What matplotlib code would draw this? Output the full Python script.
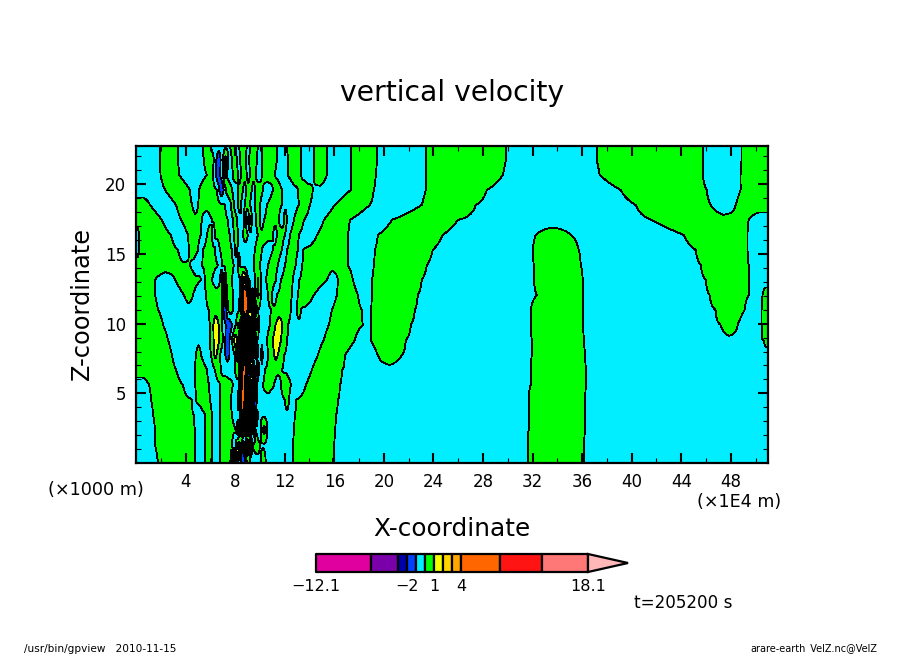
import numpy as np
import matplotlib
matplotlib.use("Agg")
import matplotlib.pyplot as plt

# shade levels of the vertical velocity and their colours
levels = [-12.1, -6, -3, -2, -1, 0, 1, 2, 3, 4, 8.3, 13, 18.1]
colors = ["#e000a0", "#7a00aa", "#0000aa", "#0040ff", "#00eeff", "#00ff00",
          "#f5ff00", "#ffd400", "#ffa500", "#ff6600", "#ff1414", "#ff7878"]
over_colour = "#ffb8b8"
cbar_labels = [-12.1, -2, 1, 4, 18.1]

C = -0.6  # typical weak downdraft
G = 0.6   # typical weak updraft

# heights of the read-off profiles (x 1000 m)
z_rows = [22.75, 21.75, 20.67, 19.6, 18.52, 17.44, 16.37, 15.29, 14.21, 13.14, 12.06,
          10.98, 9.91, 8.83, 7.75, 6.68, 5.6, 4.52, 3.45, 2.37, 1.29, 0.0]

# each profile: (x where the lobe ends, x 1E4 m ; peak velocity of that lobe)
p00 = [(1.94,C),(3.39,G),(5.4,C),(5.97,G),(7.58,C),(8.06,G),(8.31,C),(8.95,G),(9.19,C),(9.84,G),(10.16,C),(11.37,G),(12.18,C),(13.31,G),(14.35,C),(15.4,G),(17.34,C),(19.44,G),(23.39,C),(29.84,G),(37.18,C),(45.73,G),(48.87,C),(51,G)]
p01 = [(1.94,C),(3.39,G),(5.48,C),(6.29,G),(7.02,-1.9),(7.42,1.6),(7.74,C),(8.15,G),(8.39,C),(8.87,G),(9.11,C),(9.76,G),(10.16,C),(11.37,G),(12.26,C),(13.31,G),(14.35,C),(15.4,G),(17.34,C),(19.44,G),(23.39,C),(29.84,G),(37.18,C),(45.73,G),(48.87,C),(51,G)]
p02 = [(1.98,C),(3.47,G),(5.73,C),(6.21,G),(7.02,-1.8),(7.34,1.5),(7.82,C),(8.23,G),(8.47,C),(8.95,G),(9.19,C),(9.68,G),(10.16,C),(11.21,G),(12.26,C),(13.31,G),(14.35,C),(15.4,G),(17.34,C),(19.35,G),(23.39,C),(29.6,G),(37.42,C),(45.73,G),(48.79,C),(51,G)]
p03 = [(2.34,C),(4.35,G),(5.08,C),(6.53,G),(7.26,-2.0),(7.74,G),(8.23,C),(8.63,G),(8.87,C),(9.35,G),(9.6,C),(10.24,G),(11.05,C),(11.77,G),(13.06,C),(14.27,G),(17.34,C),(19.19,G),(23.39,C),(28.31,G),(39.11,C),(46.05,G),(48.79,C),(51,G)]
p04 = [(1.13,G),(3.23,C),(4.52,G),(5.0,C),(7.18,G),(7.66,C),(7.9,G),(8.23,C),(8.47,G),(8.79,C),(9.19,G),(9.6,C),(10.0,G),(10.56,C),(11.77,G),(13.15,C),(14.03,G),(16.05,C),(18.87,G),(23.06,C),(27.42,G),(40.32,C),(46.37,G),(48.39,C),(51,G)]
p05 = [(2.1,G),(3.63,C),(5.32,G),(6.13,C),(7.42,G),(7.82,C),(8.15,G),(8.47,C),(8.71,-0.8),(8.87,1.6),(9.11,-1.6),(9.35,1.6),(9.68,C),(10.0,G),(10.32,C),(11.53,G),(11.94,C),(12.18,G),(12.74,C),(13.55,G),(15.16,C),(17.26,G),(20.65,C),(25.97,G),(41.61,C),(49.44,G),(51,C)]
p06 = [(0.24,C),(2.82,G),(4.19,C),(5.24,G),(5.73,C),(6.13,G),(6.37,C),(7.58,G),(7.9,C),(8.23,G),(8.63,C),(9.03,G),(9.84,C),(11.05,G),(11.37,C),(12.02,G),(12.42,C),(13.15,G),(14.6,C),(17.1,G),(19.52,C),(24.76,G),(32.26,C),(35.08,G),(44.19,C),(49.35,G),(51,C)]
p07 = [(0.24,C),(3.39,G),(4.27,C),(5.0,G),(5.4,C),(6.37,G),(6.77,C),(7.74,G),(7.98,C),(8.15,G),(9.6,C),(10.16,G),(11.05,C),(11.77,G),(12.18,C),(13.06,G),(13.47,C),(17.1,G),(19.27,C),(23.95,G),(32.02,C),(35.73,G),(45.16,C),(49.35,G),(51,C)]
p08 = [(4.35,G),(5.32,C),(6.61,G),(6.94,C),(7.9,G),(8.23,C),(8.39,G),(9.52,C),(10.0,G),(10.65,C),(11.45,G),(12.02,C),(12.9,G),(13.39,C),(17.1,G),(19.19,C),(23.47,G),(32.1,C),(35.89,G),(45.56,C),(49.44,G),(51,C)]
p09 = [(1.53,G),(3.15,C),(5.24,G),(5.56,C),(6.13,G),(6.77,C),(6.94,G),(7.26,-2.4),(7.74,G),(8.39,C),(9.03,2.8),(9.19,-1.2),(9.6,C),(10.08,1.1),(10.48,C),(11.29,G),(11.69,C),(12.66,G),(13.15,C),(15.4,G),(16.29,C),(17.5,G),(19.03,C),(23.06,G),(32.1,C),(36.05,G),(45.97,C),(49.44,G),(51,C)]
p10 = [(1.53,G),(3.87,C),(4.6,G),(5.65,C),(6.94,G),(7.34,-2.8),(7.82,G),(8.39,C),(9.23,7),(9.6,-1.5),(10.08,1.3),(10.65,C),(10.97,G),(11.37,C),(12.58,G),(13.06,C),(14.35,G),(16.21,C),(17.9,G),(19.03,C),(22.74,G),(32.34,C),(36.05,G),(46.29,C),(49.44,G),(50.56,C),(51,G)]
p11 = [(1.77,G),(5.89,C),(6.94,G),(7.42,-2),(7.82,G),(8.31,C),(9.35,6),(9.52,-2),(9.84,1.8),(10.89,C),(12.5,G),(12.98,C),(13.31,G),(15.81,C),(18.23,G),(18.95,C),(22.5,G),(31.85,C),(36.05,G),(46.77,C),(49.11,G),(50.48,C),(51,G)]
p12 = [(2.18,G),(5.97,C),(6.94,1.8),(8.06,-1.9),(8.39,1.3),(8.63,-3),(8.95,3.5),(9.19,-3),(9.44,4),(9.68,-3),(9.92,1.5),(10.81,C),(12.26,1.6),(15.56,C),(18.31,G),(18.95,C),(22.18,G),(31.85,C),(36.05,G),(47.18,C),(48.55,G),(50.48,C),(51,G)]
p13 = [(2.58,G),(5.97,C),(7.02,1.8),(7.74,-1.9),(8.31,1.7),(8.55,-2.5),(8.95,5),(9.11,-3),(9.35,3),(9.6,-2.5),(9.76,2),(10.56,C),(12.18,1.7),(15.16,C),(17.66,G),(18.95,C),(21.77,G),(31.94,C),(36.13,G),(50.65,C),(51,G)]
p14 = [(2.9,G),(4.84,C),(5.24,G),(6.05,C),(6.77,1.3),(7.98,-1.4),(8.31,1.5),(8.55,-3),(8.87,3.5),(9.11,-3),(9.35,4),(9.68,-2),(9.84,2),(10.0,C),(10.32,-1.8),(10.65,C),(11.94,1.3),(14.68,C),(16.85,G),(19.52,C),(21.45,G),(31.94,C),(36.21,G),(51,C)]
p15 = [(3.23,G),(4.76,C),(5.73,G),(6.37,C),(6.85,G),(7.98,C),(8.31,G),(8.47,-2),(9.0,8),(9.27,-3),(9.6,4),(10.0,-3),(10.4,C),(11.77,G),(14.19,C),(16.61,G),(31.85,C),(36.29,G),(51,C)]
p16 = [(1.05,C),(3.79,G),(4.76,C),(5.89,G),(6.77,C),(7.82,G),(8.31,C),(8.4,-2),(8.9,8),(9.11,-3),(9.44,3),(9.84,-3),(10.24,C),(11.13,G),(11.69,C),(12.5,G),(13.71,C),(16.45,G),(31.85,C),(36.29,G),(51,C)]
p17 = [(1.21,C),(4.52,G),(4.84,C),(5.97,G),(6.77,C),(7.66,G),(8.15,C),(8.39,-3),(8.87,8),(9.11,-3),(9.52,2.5),(9.84,-2.2),(12.0,C),(12.34,G),(12.9,C),(16.29,G),(31.69,C),(36.21,G),(51,C)]
p18 = [(1.37,C),(4.68,G),(5.56,C),(6.13,G),(6.77,C),(7.74,G),(8.39,C),(8.87,7),(9.11,-3),(9.44,3),(9.68,-3),(9.84,G),(12.82,C),(16.13,G),(31.69,C),(36.21,G),(51,C)]
p19 = [(1.53,C),(4.76,G),(5.56,C),(6.13,G),(6.77,C),(8.06,G),(8.39,-2.5),(8.71,3),(9.03,-3),(9.35,3),(9.68,-2),(10.08,C),(10.6,1.6),(12.74,C),(16.05,G),(31.69,C),(36.21,G),(51,C)]
p20 = [(1.53,C),(4.76,G),(5.56,C),(6.13,G),(6.77,C),(7.74,G),(8.06,C),(8.47,1.8),(8.79,-2),(9.11,3),(9.44,-3),(10.0,G),(12.66,C),(15.97,G),(31.61,C),(36.13,G),(51,C)]
p21 = [(1.77,C),(4.76,G),(5.56,C),(6.13,G),(6.77,C),(7.58,G),(7.82,4),(8.06,-4),(8.23,4),(9.0,-1.9),(9.27,G),(10.08,C),(10.48,G),(12.66,C),(15.89,G),(31.61,C),(36.13,G),(51,C)]
profiles = [p00, p01, p02, p03, p04, p05, p06, p07, p08, p09, p10, p11,
            p12, p13, p14, p15, p16, p17, p18, p19, p20, p21]

x_ticks = [4, 8, 12, 16, 20, 24, 28, 32, 36, 40, 44, 48]
z_ticks = [5, 10, 15, 20]

X_MAX, Z_MAX = 51.0, 22.75


def expand(profile, xs):
    px, pw = [0.0], [profile[0][1]]
    start = 0.0
    for end, peak in profile:
        px += [(start + end) / 2, end]
        pw += [peak, 0.0]
        start = end
    pw[-1] = profile[-1][1]
    return np.interp(xs, px, pw)


W_px, H_px = 904, 654
fig = plt.figure(figsize=(W_px / 100, H_px / 100), dpi=100, facecolor="white")


def rect(l, t, r, b):
    return [l / W_px, 1 - b / H_px, (r - l) / W_px, (b - t) / H_px]


ax = fig.add_axes(rect(136, 146, 768, 463))
xs = np.arange(0, X_MAX + 0.001, 0.04)
zs = np.array(z_rows)[::-1]
W = np.array([expand(p, xs) for p in profiles])[::-1]
ax.contourf(xs, zs, W, levels=levels, colors=colors, antialiased=False)
ax.contour(xs, zs, W, levels=levels[1:-1], colors="black", linewidths=0.6,
           linestyles="solid", antialiased=False)
ax.set_xlim(0, X_MAX)
ax.set_ylim(0, Z_MAX)
ax.set_xticks(x_ticks)
ax.set_yticks(z_ticks)
ax.set_xticks(np.arange(2, 51, 2), minor=True)
ax.set_yticks(np.arange(1, 23), minor=True)
ax.tick_params(which="major", direction="in", length=7, width=1.5, top=True, right=True,
               labelsize=12, pad=7)
ax.tick_params(which="minor", direction="in", length=3.5, width=0.8, top=True, right=True)
for s in ax.spines.values():
    s.set_linewidth(1.6)

FONT = "DejaVu Sans"
fig.text(452 / W_px, 1 - 93 / H_px, "vertical velocity", ha="center", va="center",
         fontsize=20.3, family=FONT)
fig.text(452 / W_px, 1 - 529 / H_px, "X-coordinate", ha="center", va="center",
         fontsize=17.8, family=FONT)
fig.text(82 / W_px, 1 - 304 / H_px, "Z-coordinate", ha="center", va="center",
         rotation=90, fontsize=17.3, family=FONT)
fig.text(95.5 / W_px, 1 - 490 / H_px, "(\u00d71000 m)", ha="center", va="center",
         fontsize=12.7, family=FONT)
fig.text(739 / W_px, 1 - 502 / H_px, "(\u00d71E4 m)", ha="center", va="center",
         fontsize=12.6, family=FONT)
fig.text(683.5 / W_px, 1 - 603 / H_px, "t=205200 s", ha="center", va="center",
         fontsize=12.1, family=FONT)
fig.text(24 / W_px, 1 - 649 / H_px, "/usr/bin/gpview   2010-11-15", ha="left", va="center",
         fontsize=7.6, family=FONT)
fig.text(877 / W_px, 1 - 649 / H_px, "arare-earth_VelZ.nc@VelZ", ha="right", va="center",
         fontsize=7.0, family=FONT)

# colour bar with a pointed end for values above the last level
cax = fig.add_axes(rect(316, 554, 628, 572))
tip = levels[-1] + (levels[-1] - levels[0]) * 40 / 272
cax.set_xlim(levels[0], tip)
cax.set_ylim(0, 1)
for lo, hi, c in zip(levels[:-1], levels[1:], colors):
    cax.fill_between([lo, hi], 0, 1, facecolor=c, edgecolor="black", linewidth=1.6, clip_on=False)
cax.fill([levels[-1], tip, levels[-1]], [0, 0.5, 1], facecolor=over_colour, edgecolor="black",
         linewidth=1.6, clip_on=False)
cax.set_xticks(cbar_labels)
cax.set_xticklabels([str(v).replace("-", "\u2212") for v in cbar_labels], fontsize=11.5)
cax.set_yticks([])
cax.tick_params(length=0, pad=5)
for s in cax.spines.values():
    s.set_visible(False)

fig.savefig("out.png", dpi=100, facecolor="white")
